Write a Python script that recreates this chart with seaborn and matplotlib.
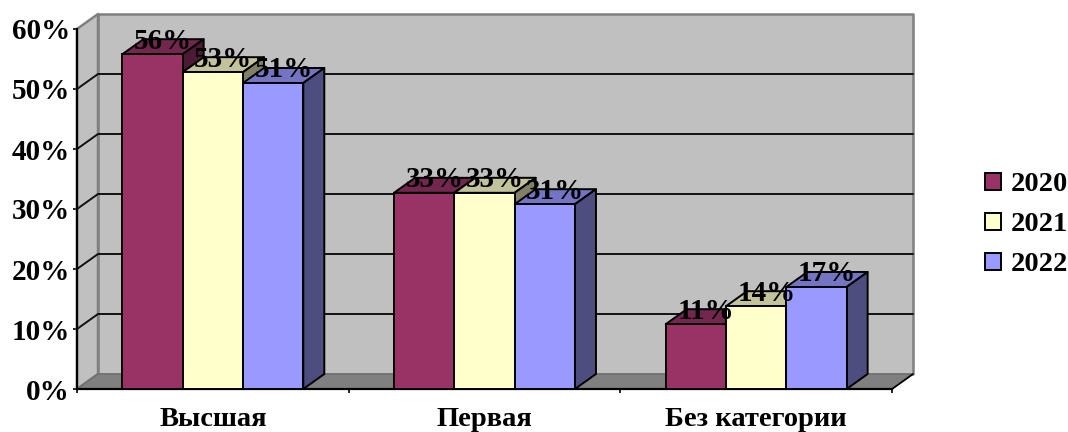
import numpy as np
import pandas as pd
import matplotlib
matplotlib.use("Agg")
import matplotlib.pyplot as plt
from matplotlib.colors import to_rgb
from matplotlib.patches import Polygon
import seaborn as sns

# values (labels show them rounded)
categories = ["Высшая", "Первая", "Без категории"]
years = ["2020", "2021", "2022"]
vals_2020 = [55.8, 32.7, 10.8]
vals_2021 = [52.8, 32.7, 13.8]
vals_2022 = [51.0, 30.8, 17.0]
colors = ["#993366", "#FFFFCC", "#9999FF"]
yticks = [0, 10, 20, 30, 40, 50, 60]

df = pd.DataFrame({
    "cat": categories * 3,
    "year": [y for y in years for _ in categories],
    "val": vals_2020 + vals_2021 + vals_2022,
})

sns.set_theme(style="white")
plt.rcParams["font.family"] = ["Liberation Serif", "DejaVu Serif"]
plt.rcParams["font.weight"] = "bold"
plt.rcParams["text.color"] = "black"

fig = plt.figure(figsize=(10.68, 4.32), dpi=100)
ax = fig.add_axes([77 / 1068, 43 / 432, 815 / 1068, 360 / 432])

sns.barplot(data=df, x="cat", y="val", hue="year", palette=colors, width=0.666,
            gap=0, saturation=1, edgecolor="black", linewidth=1.4, ax=ax, errorbar=None)

x0, x1 = -0.5, 2.5
ax.set_xlim(x0, x1)
ax.set_ylim(0, 60)
# depth of the fake 3d box, in data units
dx = 21 / (815 / 3)
dy = 15 / 6


def shade(col, k):
    return tuple(c * k for c in to_rgb(col))


def face(pts, fc, ec, z, lw=1.4):
    ax.add_patch(Polygon(pts, closed=True, facecolor=fc, edgecolor=ec, linewidth=lw,
                         zorder=z, clip_on=False, joinstyle="round"))


# walls and floor
wall = "#C0C0C0"
edge = "#808080"
face([(x0 + dx, dy), (x1 + dx, dy), (x1 + dx, 60 + dy), (x0 + dx, 60 + dy)], wall, edge, 0.5, 1.8)
face([(x0, 0), (x0 + dx, dy), (x0 + dx, 60 + dy), (x0, 60)], wall, edge, 0.6, 1.8)
face([(x0, 0), (x0 + dx, dy), (x1 + dx, dy), (x1, 0)], "#808080", "#707070", 0.7, 1.2)
ax.plot([x1, x1 + dx], [0, dy], color="black", lw=1.2, zorder=0.8, clip_on=False)

# gridlines run across the side wall and the back wall, top one stays grey
for v in yticks[1:-1]:
    ax.plot([x0, x0 + dx, x1 + dx], [v, v + dy, v + dy], color="#111111", lw=1.4,
            zorder=1, clip_on=False)

# 3d faces per bar, painted left to right inside each group
labels = []
for i, cont in enumerate(ax.containers):
    col = colors[i]
    for bar in cont:
        bx, bw, h = bar.get_x(), bar.get_width(), bar.get_height()
        z = 3 + i
        bar.set_zorder(z + 0.2)
        face([(bx, h), (bx + bw, h), (bx + bw + dx, h + dy), (bx + dx, h + dy)], shade(col, 0.76), "black", z)
        face([(bx + bw, 0), (bx + bw + dx, dy), (bx + bw + dx, h + dy), (bx + bw, h)], shade(col, 0.5), "black", z + 0.1)
        labels.append((bx + bw / 2 + dx / 2, h + dy / 2, f"{h:.0f}%"))

for lx, ly, txt in labels:
    ax.annotate(txt, (lx, ly), xytext=(0, 4), textcoords="offset points", ha="center", va="center",
                fontsize=21, fontweight="bold", color="black", zorder=10, annotation_clip=False)

ax.set_xlabel("")
ax.set_ylabel("")
ax.set_yticks(yticks)
ax.set_yticklabels([f"{v}%" for v in yticks], fontsize=21, fontweight="bold", color="black")
ax.set_xticks([0, 1, 2])
ax.set_xticklabels(categories, fontsize=20.5, fontweight="bold", color="black")
ax.set_xticks([x0, x0 + 1, x0 + 2, x1], minor=True)
ax.tick_params(axis="x", which="major", length=0, pad=13)
ax.tick_params(axis="x", which="minor", length=3, width=1.2, color="black", bottom=True)
ax.tick_params(axis="y", length=3, width=1.2, color="black", left=True, pad=2)

sns.despine(ax=ax, top=True, right=True)
for s in ["left", "bottom"]:
    ax.spines[s].set_color("black")
    ax.spines[s].set_linewidth(1.6)
    ax.spines[s].set_zorder(2)
ax.patch.set_visible(False)

sns.move_legend(ax, loc="center left", bbox_to_anchor=(1.083, 0.456), title=None, frameon=False,
                fontsize=20.5, handlelength=0.55, handleheight=0.55, handletextpad=0.36, labelspacing=0.53)

fig.savefig("out.png", dpi=100)
